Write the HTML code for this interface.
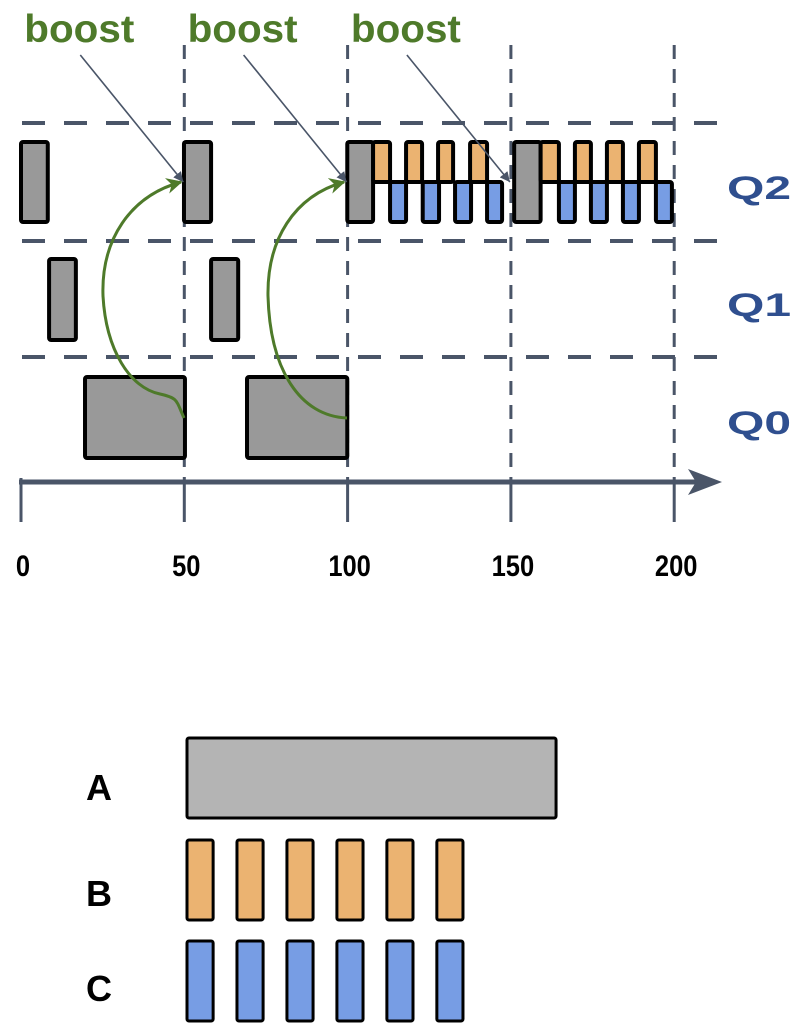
<!DOCTYPE html>
<html><head><meta charset="utf-8"><style>
html,body{margin:0;padding:0;background:#fff;}
svg{display:block;}
text{font-family:"Liberation Sans",sans-serif;font-weight:bold;}
</style></head><body>
<svg id="chart" width="806" height="1028" viewBox="0 0 806 1028" xmlns="http://www.w3.org/2000/svg">
<defs>
<marker id="ah" viewBox="0 0 10 10" refX="10" refY="5" markerWidth="10" markerHeight="10" markerUnits="userSpaceOnUse" orient="auto"><path d="M0,0 L10,5 L0,10 Z" fill="#4a5568"/></marker>
<marker id="gh" viewBox="0 0 10 10" refX="9" refY="5" markerWidth="16" markerHeight="16" markerUnits="userSpaceOnUse" orient="auto"><path d="M0,0 L10,5 L0,10 L3,5 Z" fill="#4e7a2a"/></marker>
</defs>
<g id="grid"></g>
<g id="marks"></g>
<g id="axis"></g>
<g id="ann"></g>
<g id="legend"></g>
</svg>
<script>
const ticks=[0,50,100,150,200];
const boosts=[50,100,150];
const queues=["Q2","Q1","Q0"];
const q2Gray=[[0,8.2],[49.9,58.2],[99.9,107.8],[151,159.1]];
const q1Gray=[[8.6,16.8],[58.2,66.5]];
const q0Gray=[[19.6,50.2],[69.2,99.9]];
const orangeB=[[107.8,113],[117.9,122.8],[127.7,132.3],[137.5,142.7],[159.1,164.7],[169.6,174.5],[179.4,184.3],[189.2,194.4]];
const blueC=[[113,117.9],[123,128],[132.9,137.8],[142.7,147.3],[164.7,169.6],[174.5,179.4],[184.3,189.2],[194.4,199.3]];
const legendA=[[0,113]];
const legendB=[[0,8],[15.3,23.3],[30.6,38.6],[45.9,53.9],[61.2,69.2],[76.5,84.5]];
const legendC=[[0,8],[15.3,23.3],[30.6,38.6],[45.9,53.9],[61.2,69.2],[76.5,84.5]];

const NS="http://www.w3.org/2000/svg";
const xs=t=>21+t*3.266;
const lx=t=>187+t*3.266;
const rowTop={Q2:142,Q1:259,Q0:377};
function mk(tag,parent,attrs){const e=document.createElementNS(NS,tag);for(const k in attrs)e.setAttribute(k,attrs[k]);document.getElementById(parent).appendChild(e);return e;}

[123,241,357].forEach((y,i)=>{const e=mk('line','grid',{x1:22,x2:722,y1:y,y2:y,stroke:'#4a5568','stroke-width':4,'stroke-dasharray':'23 19'});

});
ticks.slice(1).forEach(t=>{const e=mk('line','grid',{x1:xs(t),x2:xs(t),y1:45,y2:478,stroke:'#4a5568','stroke-width':3,'stroke-dasharray':'14 10'});

});

function bars(arr,y,h,fill,name,xf,sw){arr.forEach((d,i)=>{const e=mk('rect','marks',{x:xf(d[0]),y:y,width:xf(d[1])-xf(d[0]),height:h,fill:fill,stroke:'#000','stroke-width':sw||4,rx:2});

});}
bars(q2Gray,rowTop.Q2,80,'#999999','q2-job-a',xs);
bars(q1Gray,rowTop.Q1,81,'#999999','q1-job-a',xs);
bars(q0Gray,rowTop.Q0,81,'#999999','q0-job-a',xs);
bars(orangeB,142,40,'#ebb371','q2-job-b',xs);
bars(blueC,182,40,'#779de4','q2-job-c',xs);

const ax=mk('line','axis',{x1:19,x2:712,y1:482,y2:482,stroke:'#4a5568','stroke-width':5});


const ah=mk('path','axis',{d:'M688,469 L722,482 L688,495 L696,482 Z',fill:'#4a5568'});


ticks.forEach(t=>{const l=mk('line','axis',{x1:xs(t),x2:xs(t),y1:478,y2:522,stroke:'#4a5568','stroke-width':3});


const tx=mk('text','axis',{x:xs(t)+2,y:576,'text-anchor':'middle','font-size':30,fill:'#000',transform:'translate('+(xs(t)+2)+',0) scale(0.85,1) translate('+(-(xs(t)+2))+',0)'});tx.textContent=t;

});
queues.forEach(q=>{const tx=mk('text','axis',{x:727,y:rowTop[q]+57,'font-size':32,fill:'#2f4f8f',textLength:64,lengthAdjust:'spacingAndGlyphs'});tx.textContent=q;

});

boosts.forEach((b,i)=>{const tx=mk('text','ann',{x:xs(b)-160,y:42,'font-size':39,fill:'#4e7a2a',textLength:110,lengthAdjust:'spacingAndGlyphs'});tx.textContent='boost';


const ln=mk('line','ann',{x1:xs(b)-104,y1:55,x2:xs(b)-1,y2:182,stroke:'#4a5568','stroke-width':1.6,'marker-end':'url(#ah)'});

});
const c1=mk('path','ann',{d:'M184,418 C176,400 178,398 160,394 C130,388 106,350 103,296 C101,240 130,196 181,182',fill:'none',stroke:'#4e7a2a','stroke-width':3,'marker-end':'url(#gh)'});


const c2=mk('path','ann',{d:'M347,418 C300,416 270,370 268,296 C267,240 294,196 344,182',fill:'none',stroke:'#4e7a2a','stroke-width':3,'marker-end':'url(#gh)'});



function lbars(arr,y,fill,name){arr.forEach((d,i)=>{const e=mk('rect','legend',{x:lx(d[0]),y:y,width:lx(d[1])-lx(d[0]),height:80,fill:fill,stroke:'#000','stroke-width':3,rx:2});

});}
lbars(legendA,738,'#b4b4b4','legend-a-bar');
lbars(legendB,840,'#ebb371','legend-b-bar');
lbars(legendC,941,'#779de4','legend-c-bar');
[['A',800],['B',906],['C',1001]].forEach(p=>{const tx=mk('text','legend',{x:86,y:p[1],'font-size':36,fill:'#000'});tx.textContent=p[0];

});
</script>
</body></html>
